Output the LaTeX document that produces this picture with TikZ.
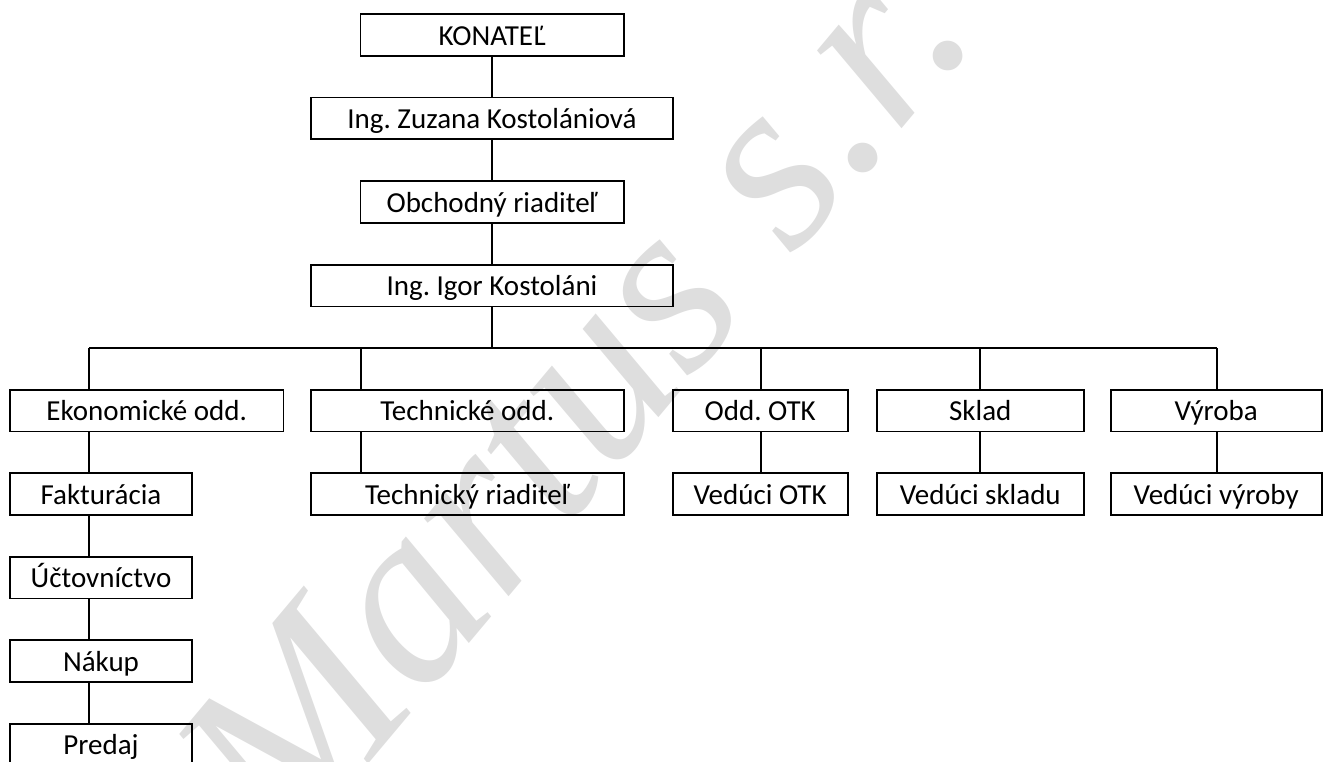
\documentclass[tikz,border=0pt]{standalone}
\usepackage{fontspec}
\setmainfont{Carlito}
\newfontfamily\wmfont{Liberation Serif}
\usepackage{tikz}
\definecolor{wmgray}{RGB}{222,222,222}
\tikzset{
  orgbox/.style={draw, line width=1.7pt, minimum height=41.7pt, inner sep=0pt,
    text height=30pt, text depth=9.2pt, align=center},
  orgline/.style={line width=1.7pt}
}

\begin{document}
\frenchspacing
\begin{tikzpicture}[x=1pt, y=-1pt, font=\fontsize{29}{34}\selectfont]

  \newcommand\Y{83.5}
  \newcommand\T{410.5}

  \useasboundingbox (0,0) rectangle (1327,762);
  \clip (0,0) rectangle (1327,762);

  % watermark
  \node[rotate=50, anchor=base west, text=wmgray, inner sep=0pt,
        font=\wmfont\itshape\fontsize{250}{250}\selectfont] (wm) at (288, 860) {Martus s.r.};

  % top chain
  \node[orgbox, minimum width=263.3pt] (konatel) at (492, 35+0*\Y) {KONATEĽ};
  \node[orgbox, minimum width=362.3pt] (zuzana)  at (492, 35+1*\Y) {Ing. Zuzana Kostolániová};
  \node[orgbox, minimum width=263.3pt] (obchod)  at (492, 35+2*\Y) {Obchodný riaditeľ};
  \node[orgbox, minimum width=362.3pt] (igor)    at (492, 35+3*\Y) {Ing. Igor Kostoláni};

  \draw[orgline] (konatel) -- (zuzana);
  \draw[orgline] (zuzana) -- (obchod);
  \draw[orgline] (obchod) -- (igor);

  % departments
  \node[orgbox, minimum width=273.3pt] (ekon)  at (146.7, \T) {Ekonomické odd.};
  \node[orgbox, minimum width=313.3pt] (tech)  at (467.3, \T) {Technické odd.};
  \node[orgbox, minimum width=175pt]   (otk)   at (760.2, \T) {Odd. OTK};
  \node[orgbox, minimum width=207.3pt] (sklad) at (980.3, \T) {Sklad};
  \node[orgbox, minimum width=211pt]   (vyroba) at (1216.2, \T) {Výroba};

  % second row
  \node[orgbox, minimum width=182pt]   (fakt)   at (101, \T+1*\Y) {Fakturácia};
  \node[orgbox, minimum width=313.3pt] (techr)  at (467.3, \T+1*\Y) {Technický riaditeľ};
  \node[orgbox, minimum width=175pt]   (votk)   at (760.2, \T+1*\Y) {Vedúci OTK};
  \node[orgbox, minimum width=207.3pt] (vsklad) at (980.3, \T+1*\Y) {Vedúci skladu};
  \node[orgbox, minimum width=211pt]   (vvyroba) at (1216.2, \T+1*\Y) {Vedúci výroby};

  % economic chain
  \node[orgbox, minimum width=182pt] (uct)    at (101, \T+2*\Y) {Účtovníctvo};
  \node[orgbox, minimum width=182pt] (nakup)  at (101, \T+3*\Y) {Nákup};
  \node[orgbox, minimum width=182pt] (predaj) at (101, \T+4*\Y) {Predaj};

  % bar
  \coordinate (bar) at (492, 348.3);
  \coordinate (ekx) at (89.3, 348.3);
  \coordinate (tex) at (361, 348.3);
  \coordinate (otx) at (761, 348.3);
  \coordinate (skx) at (980, 348.3);
  \coordinate (vyx) at (1216.7, 348.3);

  \draw[orgline] (igor) -- (bar);
  \draw[orgline] (ekx) -- (vyx);

  \draw[orgline] (ekx) -- (ekx |- ekon.north);
  \draw[orgline] (tex) -- (tex |- tech.north);
  \draw[orgline] (otx) -- (otx |- otk.north);
  \draw[orgline] (skx) -- (skx |- sklad.north);
  \draw[orgline] (vyx) -- (vyx |- vyroba.north);

  \draw[orgline] (ekx |- ekon.south) -- (ekx |- fakt.north);
  \draw[orgline] (ekx |- fakt.south) -- (ekx |- uct.north);
  \draw[orgline] (ekx |- uct.south) -- (ekx |- nakup.north);
  \draw[orgline] (ekx |- nakup.south) -- (ekx |- predaj.north);

  \draw[orgline] (tex |- tech.south) -- (tex |- techr.north);
  \draw[orgline] (otx |- otk.south) -- (otx |- votk.north);
  \draw[orgline] (skx |- sklad.south) -- (skx |- vsklad.north);
  \draw[orgline] (vyx |- vyroba.south) -- (vyx |- vvyroba.north);

\end{tikzpicture}
\end{document}
